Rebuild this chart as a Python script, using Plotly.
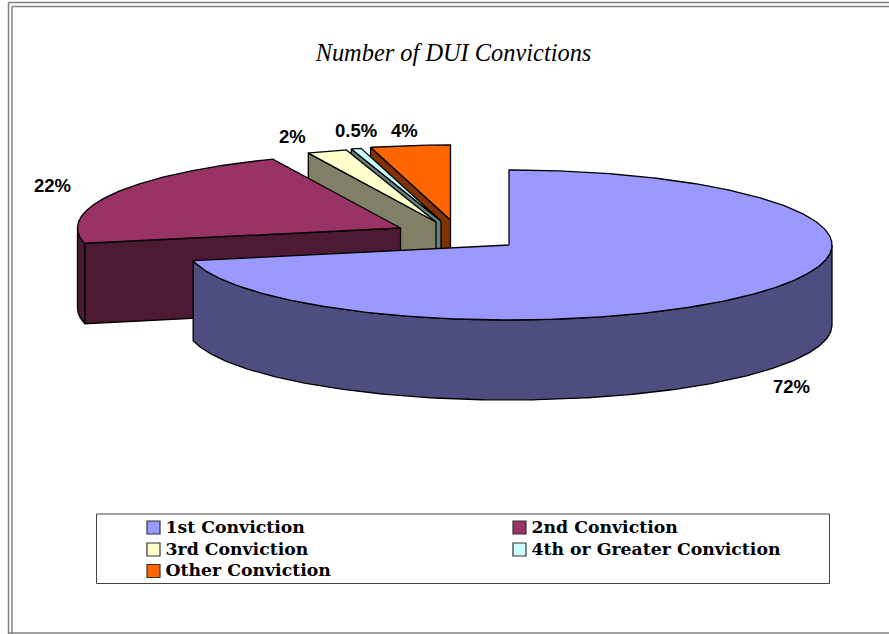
import numpy as np
import plotly.graph_objects as go

CATEGORIES = ["1st Conviction", "2nd Conviction", "3rd Conviction", "4th or Greater Conviction", "Other Conviction"]
VALUES = [72, 22, 2, 0.5, 4]
VALUE_LABELS = ["72%", "22%", "2%", "0.5%", "4%"]
TOP_COLORS = ["#9999FF", "#993366", "#FFFFCC", "#CCFFFF", "#FF6600"]
SIDE_COLORS = ["#4D4D80", "#4D1A33", "#808066", "#668080", "#803300"]

# projection of the exploded 3-D pie, in page pixels
RX, RY, DEPTH = 323, 75, 80
APEX_X = [509, 400.5, 436, 441, 450.5]
APEX_Y = [245, 228, 222, 221, 220]
LABEL_DX = [31, -61, -35, 0, -6]
LABEL_DY = [14, -8, -15, -18, -15]

# legend grid, in page pixels
LEGEND_COL_X = [153.5, 519.5]
LEGEND_ROW_Y = [527.5, 549.5, 571]
LEGEND_TEXT_DX, LEGEND_TEXT_DY = 12, 1

total = sum(VALUES)
edges = np.concatenate([[0], np.cumsum(VALUES) / total * 360])
W, H = 889, 634


def rim(ax, ay, deg, drop=0):
    t = np.radians(deg)
    return ax + RX * np.sin(t), ay - RY * np.cos(t) + drop


fig = go.Figure()


def poly(xs, ys, color):
    fig.add_trace(go.Scatter(
        x=list(xs) + [xs[0]], y=list(ys) + [ys[0]], mode="lines", fill="toself",
        fillcolor=color, line=dict(color="black", width=1.3), hoverinfo="skip", showlegend=False))


for i in range(len(VALUES) - 1, -1, -1):
    a0, a1 = edges[i], edges[i + 1]
    ax, ay = APEX_X[i], APEX_Y[i]
    side, top = SIDE_COLORS[i], TOP_COLORS[i]
    # radial face on the lower edge of the slice
    if i > 0:
        ex, ey = rim(ax, ay, a0)
        poly([ax, ex, ex, ax], [ay, ey, ey + DEPTH, ay + DEPTH], side)
    # outer wall, front half only
    w0, w1 = max(a0, 90), min(a1, 270)
    if w1 > w0:
        d = np.linspace(w0, w1, 240)
        xt, yt = rim(ax, ay, d)
        xb, yb = rim(ax, ay, d[::-1], DEPTH)
        poly(np.concatenate([xt, xb]), np.concatenate([yt, yb]), side)
    # top face
    d = np.linspace(a0, a1, 400)
    xr, yr = rim(ax, ay, d)
    poly(np.concatenate([[ax], xr]), np.concatenate([[ay], yr]), top)

# legend entries: two columns, filled row by row
for k, (name, color) in enumerate(zip(CATEGORIES, TOP_COLORS)):
    lx, ly = LEGEND_COL_X[k % 2], LEGEND_ROW_Y[k // 2]
    fig.add_trace(go.Scatter(
        x=[lx], y=[ly], mode="markers", name=name, showlegend=False, hoverinfo="skip",
        marker=dict(symbol="square", size=13, color=color, line=dict(color="#333333", width=1.2))))
    fig.add_trace(go.Scatter(
        x=[lx + LEGEND_TEXT_DX], y=[ly + LEGEND_TEXT_DY], mode="text", text=[name],
        textposition="middle right", showlegend=False, hoverinfo="skip",
        textfont=dict(family="DejaVu Serif", size=17.3, color="black", weight="bold")))

# value labels
annotations = []
for i, lab in enumerate(VALUE_LABELS):
    mid = (edges[i] + edges[i + 1]) / 2
    mx, my = rim(APEX_X[i], APEX_Y[i], mid, DEPTH if 90 < mid < 270 else 0)
    annotations.append(dict(
        x=mx + LABEL_DX[i], y=my + LABEL_DY[i], xref="x", yref="y", text=f"<b>{lab}</b>",
        showarrow=False, font=dict(family="Liberation Sans", size=18.5, color="black")))

GREY = "#808080"
shapes = [
    dict(type="line", x0=8.5, x1=W, y0=2.5, y1=2.5),
    dict(type="line", x0=8.5, x1=8.5, y0=2.5, y1=H),
    dict(type="line", x0=12, x1=W, y0=6.5, y1=6.5),
    dict(type="line", x0=12, x1=12, y0=6.5, y1=H),
    dict(type="line", x0=8.5, x1=W, y0=633, y1=633),
]
for s in shapes:
    s.update(xref="x", yref="y", line=dict(color=GREY, width=1.5), layer="below")
shapes.append(dict(type="rect", x0=96.5, x1=829.5, y0=514, y1=583.5, xref="x", yref="y",
                   line=dict(color="#444444", width=1), layer="below"))

fig.update_layout(
    width=W, height=H, autosize=False, margin=dict(l=0, r=0, t=0, b=0),
    paper_bgcolor="white", plot_bgcolor="white", showlegend=False,
    xaxis=dict(range=[0, W], visible=False, fixedrange=True),
    yaxis=dict(range=[H, 0], visible=False, fixedrange=True),
    title=dict(text="<i>Number of DUI Convictions</i>", x=453.5 / W, xanchor="center",
               y=1 - 52 / H, yanchor="middle",
               font=dict(family="Liberation Serif", size=24.4, color="black")),
    shapes=shapes, annotations=annotations,
)
fig.write_html("out.html", config=dict(displayModeBar=False),
               post_script="document.body.style.margin='0';document.body.style.overflow='hidden';")
